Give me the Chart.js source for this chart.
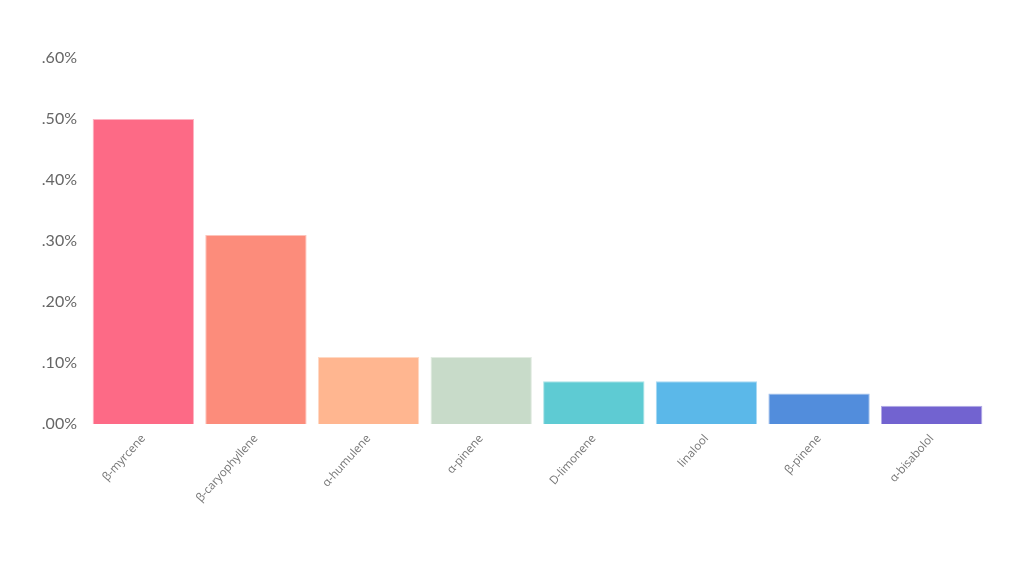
<!DOCTYPE html>
<html>
<head>
<meta charset="utf-8">
<script src="https://cdn.jsdelivr.net/npm/chart.js@4.4.0/dist/chart.umd.min.js"></script>
<style>
  html, body { margin: 0; padding: 0; background: #fff; }
  #wrap { width: 1024px; height: 575px; position: relative; }
</style>
</head>
<body>
<div id="wrap"><canvas id="terpChart"></canvas></div>
<script>
// Terpene names
const terpenes = ['β-myrcene', 'β-caryophyllene', 'α-humulene', 'α-pinene', 'D-limonene', 'linalool', 'β-pinene', 'α-bisabolol'];

// Percent values
const amounts = [0.50, 0.31, 0.11, 0.11, 0.07, 0.07, 0.05, 0.03];

// Bar colours
const fills = ['#fd6a86', '#fc8c7b', '#ffb690', '#c8dbc9', '#5ecbd3', '#5bb8e9', '#528ddc', '#7263d0'];
const edges = ['#fdb4c2', '#fdc3ba', '#ffd9c4', '#e2ece2', '#a9e3e7', '#a8d9f3', '#a4c1ec', '#b2aae6'];

const yTicks = [0, 0.1, 0.2, 0.3, 0.4, 0.5, 0.6];

const ctx = document.getElementById('terpChart');

new Chart(ctx, {
  type: 'bar',
  data: {
    labels: terpenes,
    datasets: [{
      label: 'terpenes',
      data: amounts,
      backgroundColor: fills,
      borderColor: edges,
      borderWidth: 1,
      barPercentage: 0.9,
      categoryPercentage: 1.0
    }]
  },
  options: {
    responsive: true,
    maintainAspectRatio: false,
    animation: false,
    layout: {
      padding: { left: 26, right: 36, top: 58, bottom: 70 }
    },
    plugins: {
      legend: { display: false },
      tooltip: { enabled: false }
    },
    scales: {
      x: {
        grid: { display: false },
        border: { display: false },
        ticks: {
          color: '#777',
          font: { family: 'Open Sans', size: 11.5 },
          maxRotation: 48,
          minRotation: 48,
          padding: 0
        }
      },
      y: {
        min: 0,
        max: 0.6,
        grid: { display: false },
        border: { display: false },
        afterBuildTicks: axis => {
          axis.ticks = yTicks.map(v => ({ value: v }));
        },
        afterFit: axis => {
          axis.width = 61;
        },
        ticks: {
          color: '#666',
          font: { family: 'Lato', size: 16 },
          padding: 2,
          callback: v => v.toFixed(2).replace(/^0/, '') + '%'
        }
      }
    }
  }
});
</script>
</body>
</html>
